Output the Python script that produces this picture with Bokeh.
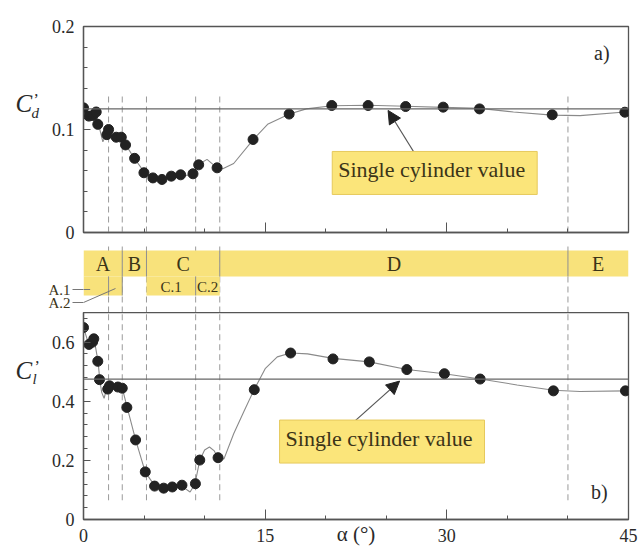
import numpy as np
from bokeh.plotting import figure
from bokeh.layouts import column, row
from bokeh.models import Range1d, Span, Label, Arrow, NormalHead, FixedTicker, ColumnDataSource
from bokeh.core.properties import value
from bokeh.embed import file_html
from bokeh.resources import INLINE

# ---------------- data ----------------
cd_alpha = [0.0, 0.44, 0.77, 1.05, 1.18, 1.93, 2.07, 2.7, 3.12, 3.47, 4.22, 4.99, 5.73, 6.48,
            7.25, 8.02, 9.04, 9.51, 11.03, 14.0, 16.98, 20.5, 23.5, 26.6, 29.7, 32.7, 38.7, 44.7]
cd_value = [0.121, 0.113, 0.1136, 0.117, 0.105, 0.095, 0.100, 0.0925, 0.0925, 0.085, 0.072, 0.058,
            0.053, 0.0515, 0.0547, 0.056, 0.057, 0.0657, 0.0628, 0.0903, 0.115, 0.1233, 0.1233,
            0.1223, 0.1217, 0.120, 0.1143, 0.1168]

cd_curve_alpha = [0.0, 0.4, 0.8, 1.1, 1.35, 1.6, 1.9, 2.1, 2.7, 3.1, 3.5, 4.2, 5.0, 5.7, 6.5, 7.2,
                  8.0, 9.0, 9.5, 10.2, 11.0, 11.5, 12.4, 14.0, 15.2, 17.0, 18.4, 20.5, 23.5, 26.6,
                  29.7, 32.7, 35.5, 38.7, 41.0, 44.7]
cd_curve_value = [0.121, 0.116, 0.117, 0.115, 0.100, 0.088, 0.097, 0.099, 0.093, 0.092, 0.085,
                  0.072, 0.059, 0.054, 0.052, 0.054, 0.055, 0.056, 0.066, 0.071, 0.063, 0.062,
                  0.067, 0.090, 0.105, 0.115, 0.120, 0.123, 0.1235, 0.1225, 0.1215, 0.1205,
                  0.117, 0.114, 0.1135, 0.117]

cl_alpha = [0.0, 0.45, 0.75, 0.85, 1.18, 1.32, 2.0, 2.15, 2.84, 3.2, 3.58, 4.3, 5.1, 5.87, 6.62,
            7.33, 8.13, 9.24, 9.6, 11.11, 14.1, 17.1, 20.6, 23.6, 26.7, 29.8, 32.75, 38.8, 44.75]
cl_value = [0.649, 0.592, 0.600, 0.611, 0.535, 0.473, 0.441, 0.452, 0.448, 0.444, 0.379, 0.269,
            0.161, 0.113, 0.106, 0.110, 0.116, 0.121, 0.201, 0.209, 0.439, 0.563, 0.543, 0.533,
            0.507, 0.493, 0.475, 0.435, 0.435]

cl_curve_alpha = [0.0, 0.3, 0.5, 0.7, 0.9, 1.2, 1.35, 1.5, 1.7, 1.9, 2.1, 2.8, 3.2, 3.6, 4.3, 5.1,
                  5.9, 6.6, 7.3, 8.1, 8.8, 9.2, 9.6, 10.0, 10.4, 10.8, 11.1, 11.6, 12.4, 13.3,
                  14.1, 15.0, 16.0, 17.1, 18.5, 20.6, 23.6, 26.7, 29.8, 32.75, 35.8, 38.8, 41.0,
                  44.75]
cl_curve_value = [0.649, 0.61, 0.595, 0.605, 0.605, 0.535, 0.47, 0.43, 0.41, 0.44, 0.45, 0.448,
                  0.444, 0.38, 0.27, 0.16, 0.113, 0.106, 0.11, 0.113, 0.093, 0.12, 0.20, 0.235,
                  0.245, 0.232, 0.209, 0.205, 0.29, 0.37, 0.44, 0.51, 0.55, 0.563, 0.56, 0.545,
                  0.533, 0.507, 0.493, 0.475, 0.455, 0.437, 0.433, 0.435]

single_cd = 0.12
single_cl = 0.475

boundaries = [2.07, 3.2, 5.2, 9.26, 11.25, 40.0]
regions = ["A", "B", "C", "D", "E"]
region_start = [0.0, 3.2, 5.2, 11.25, 40.0]
region_end = [3.2, 5.2, 11.25, 40.0, 45.0]
subregions = ["A.1", "A.2", "C.1", "C.2"]
sub_start = [0.0, 2.07, 5.2, 9.26]
sub_end = [2.07, 3.2, 9.26, 11.25]

x_ticks = [0, 15, 30, 45]
x_minor = [5, 10, 20, 25, 35, 40]
cd_ticks = [0, 0.1, 0.2]
cl_ticks = [0, 0.2, 0.4, 0.6]

# ---------------- style / layout ----------------
FONT = "Liberation Serif"
INK = "#2a2a2a"
AXIS = "#555555"
CURVE = "#8a8a8a"
DOT = "#222222"
YELLOW = "#F8E27B"
LABEL_INK = "#3b3418"
DASH = "#9a9a9a"

GUTTER = 42          # left strip holding the C' symbols
LEFT = 41            # border left of the frames (tick labels)
RIGHT = 13
FW = 545
TOP_GAP = 10         # room under the upper frame for its "0" label

X_RANGE = Range1d(0, 45)


def make_panel(y_range, frame_h, b_top, b_bottom, yticks, yminor):
    p = figure(frame_width=FW, frame_height=frame_h, x_range=X_RANGE, y_range=y_range,
               output_backend="svg", toolbar_location=None,
               min_border_left=LEFT, min_border_right=RIGHT,
               min_border_top=b_top, min_border_bottom=b_bottom)
    p.grid.visible = False
    p.outline_line_color = AXIS
    p.outline_line_width = 1.3
    p.xaxis.ticker = FixedTicker(ticks=x_ticks, minor_ticks=x_minor)
    p.yaxis.ticker = FixedTicker(ticks=yticks, minor_ticks=yminor)
    for ax in p.axis:
        ax.axis_line_color = AXIS
        ax.axis_line_width = 1.3
        ax.major_tick_line_color = AXIS
        ax.minor_tick_line_color = AXIS
        ax.major_tick_out = 0
        ax.minor_tick_out = 0
        ax.minor_tick_in = 4
        ax.major_label_text_font = FONT
        ax.major_label_text_font_size = "18px"
        ax.major_label_text_color = INK
    p.xaxis.major_tick_in = 10
    p.yaxis.major_tick_in = 7
    p.yaxis.major_label_standoff = 9
    return p


def boxed_note(p, x, y, x0, y0, x1, y1):
    p.add_layout(Arrow(end=NormalHead(size=13, fill_color="#222", line_color="#222"),
                       x_start=x0, y_start=y0, x_end=x1, y_end=y1,
                       line_color="#555", line_width=1.2))
    p.add_layout(Label(x=x, y=y, text="Single cylinder value", text_font=FONT,
                       text_font_size="22px", text_color=LABEL_INK,
                       text_align="center", text_baseline="middle",
                       background_fill_color="#FBE57A", border_line_color="#E6C95C",
                       border_line_width=1, padding=(6, 12, 6, 12)))


# ---------------- top panel (Cd') ----------------
top = make_panel(Range1d(0, 0.2), 206, 26, TOP_GAP, cd_ticks,
                 list(np.round(np.arange(0.02, 0.2, 0.02), 2)))
top.xaxis.major_label_overrides = {t: "" for t in x_ticks}
top.xaxis.major_label_standoff = 0
top.segment(x0=boundaries, x1=boundaries, y0=0, y1=0.135, line_color=DASH,
            line_dash="6 4", line_width=1)
top.add_layout(Span(location=single_cd, dimension="width", line_color="#666", line_width=1.2))
top.line(cd_curve_alpha, cd_curve_value, line_color=CURVE, line_width=1.1)
top.scatter(cd_alpha, cd_value, size=10, fill_color=DOT, line_color=DOT)
boxed_note(top, 29.0, 0.0578, 27.4, 0.0757, 25.15, 0.1185)
top.add_layout(Label(x=42.8, y=0.174, text="a)", text_font=FONT, text_font_size="20px",
                     text_color=INK, text_align="center", text_baseline="middle"))

# ---------------- band of flow regimes ----------------
BAND_H = 80 - TOP_GAP
band = figure(frame_width=FW, frame_height=BAND_H, x_range=X_RANGE, y_range=Range1d(0, BAND_H),
              output_backend="svg", toolbar_location=None, x_axis_type=None,
              min_border_left=LEFT, min_border_right=RIGHT, min_border_top=0, min_border_bottom=0)
band.grid.visible = False
band.outline_line_color = None
# sub-regimes A.1 / A.2 are named on the band's own left axis
band.yaxis.ticker = FixedTicker(ticks=[23, 10])
band.yaxis.major_label_overrides = {23: subregions[0], 10: subregions[1]}
band.yaxis.axis_line_color = None
band.yaxis.major_tick_line_color = "#777"
band.yaxis.major_tick_in = 0
band.yaxis.major_tick_out = 11
band.yaxis.major_label_standoff = 2
band.yaxis.major_label_text_font = FONT
band.yaxis.major_label_text_font_size = "15px"
band.yaxis.major_label_text_color = LABEL_INK

band.segment(x0=boundaries, x1=boundaries, y0=0, y1=BAND_H, line_color=DASH,
             line_dash="6 4", line_width=1)
reg_src = ColumnDataSource(dict(left=region_start, right=region_end, name=regions,
                                mid=[(a + b) / 2 for a, b in zip(region_start, region_end)]))
band.quad(left="left", right="right", bottom=36, top=62, source=reg_src,
          fill_color=YELLOW, line_color=None)
sub_src = ColumnDataSource(dict(left=sub_start, right=sub_end, name=subregions,
                                mid=[(a + b) / 2 for a, b in zip(sub_start, sub_end)]))
band.quad(left="left", right="right", bottom=17, top=36, source=sub_src,
          fill_color=YELLOW, line_color=None)
band.segment(x0=region_start[1:], x1=region_start[1:], y0=36, y1=62, line_color="#8f8f8f",
             line_width=1)
band.segment(x0=[sub_start[1], sub_start[3], region_end[0]],
             x1=[sub_start[1], sub_start[3], region_end[0]],
             y0=17, y1=36, line_color="#8f8f8f", line_width=1)
band.text(x="mid", y=49, text="name", source=reg_src, text_font=value(FONT),
          text_font_size="20px", text_color=LABEL_INK, text_align="center", text_baseline="middle")
c_src = ColumnDataSource(dict(mid=sub_src.data["mid"][2:], name=subregions[2:]))
band.text(x="mid", y=26, text="name", source=c_src, text_font=value(FONT),
          text_font_size="15px", text_color=LABEL_INK, text_align="center", text_baseline="middle")
# leader lines from the A.1 / A.2 names into their cells
band.segment(x0=[0, 0], y0=[23, 10], x1=[0.55, 2.64], y1=[23, 24],
             line_color="#777", line_width=1)

# ---------------- bottom panel (Cl') ----------------
bot = make_panel(Range1d(0, 0.7), 207, 0, 32, cl_ticks,
                 list(np.round(np.arange(0.04, 0.7, 0.04), 2)))
bot.xaxis.major_label_standoff = 9
bot.xaxis.axis_label = "\u03b1 (\u00b0)"
bot.xaxis.axis_label_text_font = FONT
bot.xaxis.axis_label_text_font_style = "normal"
bot.xaxis.axis_label_text_font_size = "21px"
bot.xaxis.axis_label_text_color = INK
bot.xaxis.axis_label_standoff = -23
bot.segment(x0=boundaries, x1=boundaries, y0=0.065, y1=0.7, line_color=DASH,
            line_dash="6 4", line_width=1)
bot.add_layout(Span(location=single_cl, dimension="width", line_color="#666", line_width=1.2))
bot.line(cl_curve_alpha, cl_curve_value, line_color=CURVE, line_width=1.1)
bot.scatter(cl_alpha, cl_value, size=10, fill_color=DOT, line_color=DOT)
boxed_note(bot, 24.65, 0.2636, 22.05, 0.32, 26.1, 0.468)
bot.add_layout(Label(x=42.6, y=0.092, text="b)", text_font=FONT, text_font_size="20px",
                     text_color=INK, text_align="center", text_baseline="middle"))

# ---------------- gutter with the coefficient symbols ----------------
TOTAL_H = 26 + 206 + TOP_GAP + BAND_H + 207 + 32
gut = figure(frame_width=GUTTER, frame_height=TOTAL_H, x_range=Range1d(0, GUTTER),
             y_range=Range1d(TOTAL_H, 0), output_backend="svg", toolbar_location=None,
             x_axis_type=None, y_axis_type=None,
             min_border_left=0, min_border_right=0, min_border_top=0, min_border_bottom=0)
gut.grid.visible = False
gut.outline_line_color = None
big = ColumnDataSource(dict(x=[15, 15], y=[103, 370], t=["C", "C"]))
gut.text(x="x", y="y", text="t", source=big, text_font=value(FONT), text_font_style="italic",
         text_font_size="25px", text_color=INK, text_baseline="middle")
subs = ColumnDataSource(dict(x=[31, 32], y=[112, 378], t=["d", "l"]))
gut.text(x="x", y="y", text="t", source=subs, text_font=value(FONT), text_font_style="italic",
         text_font_size="15px", text_color=INK, text_baseline="middle")
primes = ColumnDataSource(dict(x=[33, 34], y=[99, 366], t=["\u2019", "\u2019"]))
gut.text(x="x", y="y", text="t", source=primes, text_font=value(FONT),
         text_font_size="16px", text_color=INK, text_baseline="middle")

layout = row(gut, column(top, band, bot, spacing=0), spacing=0)
open("out.html", "w").write(file_html(layout, INLINE))
